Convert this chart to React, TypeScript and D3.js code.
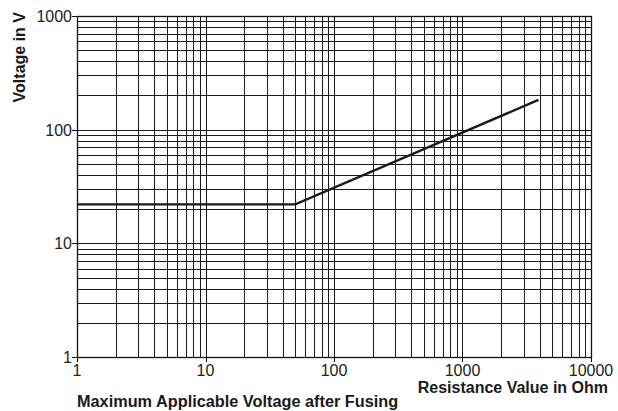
import React from "react";
import * as d3 from "d3";

const xTickValues = [1, 10, 100, 1000, 10000];
const yTickValues = [1, 10, 100, 1000];
const xTickLabels = ["1", "10", "100", "1000", "10000"];
const yTickLabels = ["1", "10", "100", "1000"];
const curveR = [1, 50, 3900];
const curveV = [22, 22, 183];

const W = 618, H = 411;
const L = 77, R = 591, T = 16, B = 357;

function minorValues(lo: number, hi: number) {
  const out: number[] = [];
  for (let d = lo; d < hi; d *= 10) {
    for (let k = 1; k <= 9; k++) out.push(d * k);
  }
  out.push(hi);
  return out;
}

export default function App() {
  const x = d3.scaleLog().domain([1, 10000]).range([L, R]);
  const y = d3.scaleLog().domain([1, 1000]).range([B, T]);
  const xs = minorValues(1, 10000);
  const ys = minorValues(1, 1000);
  const pts = curveR.map((r, i) => [r, curveV[i]] as [number, number]);
  const line = d3.line<[number, number]>().x(d => x(d[0])).y(d => y(d[1]));
  const font = "'Liberation Sans', Arial, Helvetica, sans-serif";
  return (
    <svg width={W} height={H} style={{ position: "absolute", left: 0, top: 0 }}>
      <rect width={W} height={H} fill="#fff" />
      <g stroke="#1a1a1a" strokeWidth={1}>
        {xs.map((v, i) => (
          <line key={"gx" + i} x1={Math.round(x(v)) + 0.5} x2={Math.round(x(v)) + 0.5} y1={T} y2={B} />
        ))}
        {ys.map((v, i) => (
          <line key={"gy" + i} x1={L} x2={R} y1={Math.round(y(v)) + 0.5} y2={Math.round(y(v)) + 0.5} />
        ))}
      </g>
      <rect x={L + 0.5} y={T + 0.5} width={R - L} height={B - T} fill="none" stroke="#111" strokeWidth={1.3} />
      <g stroke="#111" strokeWidth={1}>
        {yTickValues.map((v, i) => (
          <line key={"ty" + i} x1={L - 5} x2={L} y1={Math.round(y(v)) + 0.5} y2={Math.round(y(v)) + 0.5} />
        ))}
        {xTickValues.map((v, i) => (
          <line key={"tx" + i} x1={Math.round(x(v)) + 0.5} x2={Math.round(x(v)) + 0.5} y1={B} y2={B + 5} />
        ))}
      </g>
      <path d={line(pts) || ""} fill="none" stroke="#1a1a1a" strokeWidth={2.4} />
      <g fontFamily={font} fontSize={16} fill="#222">
        {yTickValues.map((v, i) => (
          <text key={"ly" + i} x={L - 5} y={y(v) + 6} textAnchor="end">{yTickLabels[i]}</text>
        ))}
        {xTickValues.map((v, i) => (
          <text key={"lx" + i} x={x(v)} y={B + 19} textAnchor="middle">{xTickLabels[i]}</text>
        ))}
      </g>
      <g fontFamily={font} fontWeight="bold" fill="#1a1a1a">
        <text x={608} y={393} fontSize={16} textAnchor="end">Resistance Value in Ohm</text>
        <text x={77} y={407} fontSize={16.3} textAnchor="start">Maximum Applicable Voltage after Fusing</text>
        <text transform="translate(25,12) rotate(-90)" fontSize={16} textAnchor="end">Voltage in V</text>
      </g>
    </svg>
  );
}
